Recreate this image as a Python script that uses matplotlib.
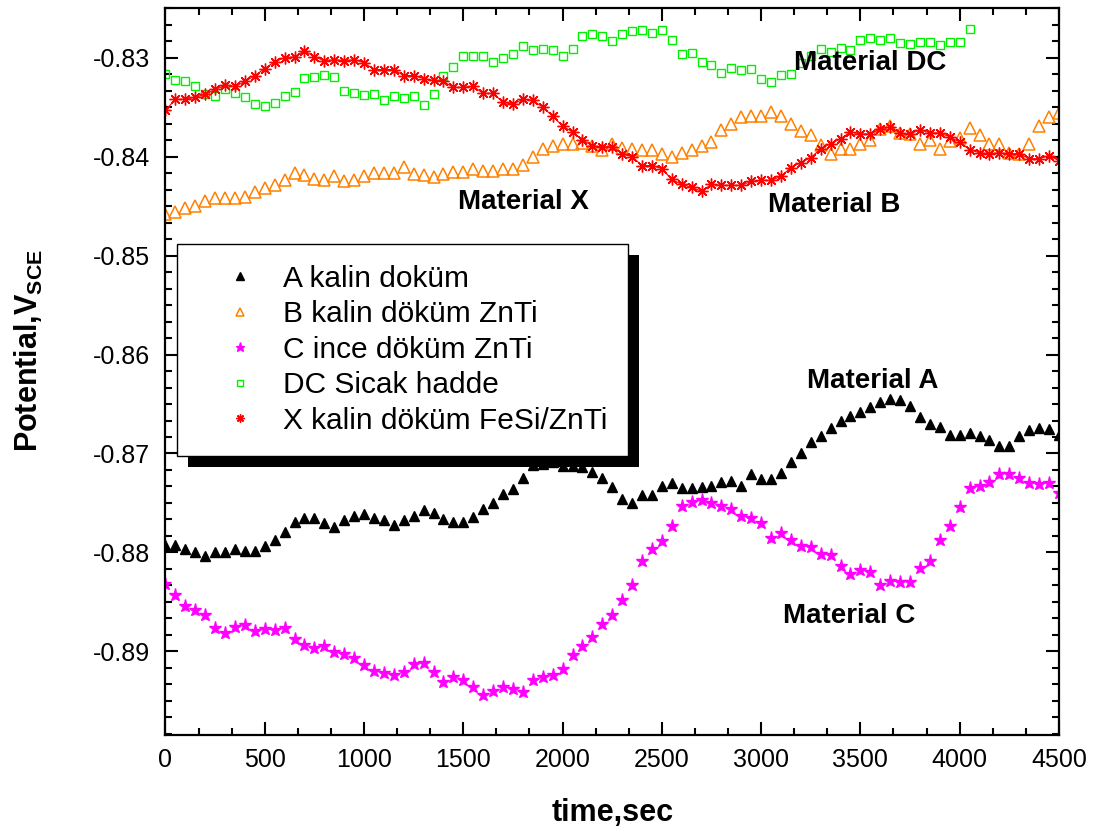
import numpy as np
import matplotlib
matplotlib.use("Agg")
import matplotlib.pyplot as plt
from matplotlib.ticker import MultipleLocator, AutoMinorLocator, FormatStrFormatter
from matplotlib.patches import Rectangle

plt.rcParams['font.family'] = ['Liberation Sans', 'DejaVu Sans']
plt.rcParams['axes.unicode_minus'] = False
plt.rcParams['mathtext.fontset'] = 'custom'
plt.rcParams['mathtext.rm'] = 'Liberation Sans'
plt.rcParams['mathtext.bf'] = 'Liberation Sans:bold'

# ---- data (one reading every 50 s) ----
time_s = np.arange(0, 4550, 50)
time_dc = time_s[:82]   # DC series stops at 4050 s

pot_a = [-0.8792, -0.8792, -0.8797, -0.8800, -0.8804, -0.8800, -0.8800, -0.8797, -0.8799, -0.8799,
         -0.8793, -0.8787, -0.8779, -0.8769, -0.8765, -0.8765, -0.8770, -0.8774, -0.8767, -0.8763,
         -0.8761, -0.8765, -0.8767, -0.8772, -0.8767, -0.8763, -0.8757, -0.8760, -0.8766, -0.8769,
         -0.8769, -0.8764, -0.8756, -0.8750, -0.8741, -0.8736, -0.8725, -0.8712, -0.8711, -0.8709,
         -0.8713, -0.8713, -0.8714, -0.8719, -0.8725, -0.8734, -0.8746, -0.8750, -0.8742, -0.8742,
         -0.8733, -0.8730, -0.8735, -0.8735, -0.8734, -0.8733, -0.8729, -0.8728, -0.8733, -0.8721,
         -0.8726, -0.8726, -0.8720, -0.8709, -0.8699, -0.8688, -0.8682, -0.8674, -0.8667, -0.8662,
         -0.8658, -0.8653, -0.8648, -0.8645, -0.8646, -0.8652, -0.8663, -0.8670, -0.8673, -0.8681,
         -0.8681, -0.8679, -0.8682, -0.8686, -0.8692, -0.8692, -0.8682, -0.8676, -0.8674, -0.8675,
         -0.8681]

pot_b = [-0.8458, -0.8456, -0.8452, -0.8450, -0.8445, -0.8442, -0.8442, -0.8442, -0.8441, -0.8436,
         -0.8432, -0.8429, -0.8424, -0.8417, -0.8419, -0.8423, -0.8424, -0.8420, -0.8425, -0.8424,
         -0.8420, -0.8416, -0.8416, -0.8417, -0.8410, -0.8418, -0.8419, -0.8421, -0.8418, -0.8415,
         -0.8415, -0.8412, -0.8414, -0.8414, -0.8412, -0.8412, -0.8408, -0.8400, -0.8392, -0.8389,
         -0.8387, -0.8387, -0.8386, -0.8389, -0.8393, -0.8387, -0.8391, -0.8392, -0.8393, -0.8393,
         -0.8397, -0.8400, -0.8396, -0.8393, -0.8389, -0.8385, -0.8373, -0.8367, -0.8360, -0.8359,
         -0.8359, -0.8355, -0.8359, -0.8367, -0.8374, -0.8378, -0.8388, -0.8397, -0.8392, -0.8392,
         -0.8387, -0.8383, -0.8372, -0.8369, -0.8376, -0.8377, -0.8387, -0.8383, -0.8392, -0.8384,
         -0.8381, -0.8371, -0.8378, -0.8387, -0.8387, -0.8396, -0.8397, -0.8387, -0.8369, -0.8360,
         -0.8356]

pot_c = [-0.8832, -0.8843, -0.8854, -0.8858, -0.8863, -0.8876, -0.8881, -0.8875, -0.8873, -0.8879,
         -0.8877, -0.8878, -0.8876, -0.8887, -0.8894, -0.8897, -0.8895, -0.8901, -0.8903, -0.8907,
         -0.8914, -0.8920, -0.8922, -0.8924, -0.8921, -0.8913, -0.8912, -0.8921, -0.8931, -0.8926,
         -0.8929, -0.8936, -0.8944, -0.8940, -0.8936, -0.8938, -0.8941, -0.8929, -0.8926, -0.8924,
         -0.8918, -0.8904, -0.8895, -0.8885, -0.8872, -0.8863, -0.8848, -0.8833, -0.8809, -0.8797,
         -0.8788, -0.8773, -0.8753, -0.8749, -0.8747, -0.8750, -0.8753, -0.8756, -0.8763, -0.8765,
         -0.8770, -0.8785, -0.8780, -0.8787, -0.8794, -0.8795, -0.8802, -0.8803, -0.8814, -0.8822,
         -0.8818, -0.8820, -0.8833, -0.8829, -0.8830, -0.8830, -0.8816, -0.8809, -0.8787, -0.8773,
         -0.8754, -0.8735, -0.8733, -0.8729, -0.8721, -0.8721, -0.8725, -0.8730, -0.8731, -0.8730,
         -0.8740]

pot_dc = [-0.8316, -0.8322, -0.8324, -0.8329, -0.8337, -0.8339, -0.8332, -0.8336, -0.8340, -0.8347,
          -0.8349, -0.8346, -0.8339, -0.8335, -0.8320, -0.8319, -0.8317, -0.8319, -0.8334, -0.8336,
          -0.8338, -0.8337, -0.8343, -0.8339, -0.8341, -0.8339, -0.8348, -0.8337, -0.8318, -0.8309,
          -0.8298, -0.8298, -0.8298, -0.8304, -0.8300, -0.8296, -0.8288, -0.8292, -0.8291, -0.8292,
          -0.8298, -0.8291, -0.8278, -0.8276, -0.8278, -0.8283, -0.8276, -0.8273, -0.8272, -0.8275,
          -0.8272, -0.8282, -0.8296, -0.8295, -0.8304, -0.8307, -0.8315, -0.8310, -0.8312, -0.8311,
          -0.8321, -0.8325, -0.8317, -0.8316, -0.8305, -0.8298, -0.8291, -0.8294, -0.8290, -0.8292,
          -0.8282, -0.8280, -0.8282, -0.8280, -0.8285, -0.8286, -0.8284, -0.8284, -0.8287, -0.8284,
          -0.8284, -0.8271]

pot_x = [-0.8353, -0.8342, -0.8342, -0.8340, -0.8337, -0.8332, -0.8328, -0.8329, -0.8324, -0.8318,
         -0.8311, -0.8304, -0.8300, -0.8299, -0.8293, -0.8299, -0.8303, -0.8302, -0.8303, -0.8302,
         -0.8305, -0.8312, -0.8312, -0.8312, -0.8318, -0.8318, -0.8321, -0.8323, -0.8324, -0.8330,
         -0.8330, -0.8329, -0.8336, -0.8336, -0.8345, -0.8347, -0.8342, -0.8343, -0.8350, -0.8359,
         -0.8369, -0.8375, -0.8383, -0.8389, -0.8390, -0.8390, -0.8397, -0.8400, -0.8409, -0.8409,
         -0.8412, -0.8423, -0.8428, -0.8431, -0.8435, -0.8428, -0.8429, -0.8429, -0.8429, -0.8425,
         -0.8424, -0.8424, -0.8420, -0.8411, -0.8406, -0.8401, -0.8392, -0.8387, -0.8382, -0.8375,
         -0.8377, -0.8377, -0.8372, -0.8370, -0.8376, -0.8377, -0.8373, -0.8376, -0.8376, -0.8380,
         -0.8385, -0.8393, -0.8396, -0.8397, -0.8396, -0.8397, -0.8397, -0.8402, -0.8402, -0.8399,
         -0.8404]

labels = ["A kalin doküm", "B kalin döküm ZnTi", "C ince döküm ZnTi",
          "DC Sicak hadde", "X kalin döküm FeSi/ZnTi"]

notes = ["Material DC", "Material X", "Material B", "Material A", "Material C"]
note_t = [3548, 1805, 3367, 3563, 3442]
note_v = [-0.83128, -0.84524, -0.84558, -0.86341, -0.88713]

# ---- figure ----
fig = plt.figure(figsize=(10.96, 8.35), dpi=100)
ax = fig.add_axes([0.151, 0.1192, 0.8152, 0.8709])

ax.plot(time_s, pot_a, linestyle='none', marker='^', ms=7.5, color='black', label=labels[0])
ax.plot(time_s, pot_b, linestyle='none', marker='^', ms=8, mfc='none', mec='#ff8000',
        mew=1.1, label=labels[1])
ax.plot(time_s, pot_c, linestyle='none', marker='*', ms=9.5, color='#ff00ff', label=labels[2])
ax.plot(time_dc, pot_dc, linestyle='none', marker='s', ms=5.5, mfc='none', mec='#00f000',
        mew=1.0, label=labels[3])
ax.plot(time_s, pot_x, color='#ff0000', lw=0.8)
ax.plot(time_s, pot_x, linestyle='none', marker=(8, 2, 0), ms=8.5, mec='#ff0000',
        mew=1.0, label=labels[4])

for txt, tt, vv in zip(notes, note_t, note_v):
    ax.text(tt, vv, txt, ha='center', va='baseline', fontsize=20, fontweight='bold')

ax.set_xlim(0, 4500)
ax.set_ylim(-0.8985, -0.8250)
ax.xaxis.set_major_locator(MultipleLocator(500))
ax.xaxis.set_minor_locator(AutoMinorLocator(3))
ax.yaxis.set_major_locator(MultipleLocator(0.01))
ax.yaxis.set_minor_locator(AutoMinorLocator(6))
ax.yaxis.set_major_formatter(FormatStrFormatter('%.2f'))

ax.tick_params(which='both', direction='in', top=True, right=True, width=1.5, labelsize=18)
ax.tick_params(which='major', length=9.5)
ax.tick_params(which='minor', length=5)
ax.tick_params(axis='x', pad=9)
ax.tick_params(axis='y', pad=11)
for sp in ax.spines.values():
    sp.set_linewidth(1.6)

ax.set_xlabel("time,sec", fontsize=22, fontweight='bold', labelpad=19)
ax.set_ylabel("Potential,V$_{\\mathbf{SCE}}$", fontsize=22, fontweight='bold')
ax.yaxis.set_label_coords(-0.135, 0.53)

leg = ax.legend(loc='upper left', bbox_to_anchor=(0.0134, 0.6758), borderaxespad=0,
                fontsize=21.5, frameon=True, fancybox=False, framealpha=1, edgecolor='black',
                borderpad=0.7, handlelength=2.8, handletextpad=0.03, labelspacing=0.25,
                markerscale=0.7)
leg.get_frame().set_linewidth(1.0)
leg.set_zorder(6)

# solid drop shadow behind the legend box
fig.canvas.draw()
bb = leg.get_window_extent()
off = 11
inv = ax.transAxes.inverted()
(x0, y0) = inv.transform((bb.x0 + off, bb.y0 - off))
(x1, y1) = inv.transform((bb.x1 + off, bb.y1 - off))
ax.add_patch(Rectangle((x0, y0), x1 - x0, y1 - y0, transform=ax.transAxes,
                       facecolor='black', edgecolor='none', zorder=5.5, clip_on=False))

fig.savefig("out.png", dpi=100)
